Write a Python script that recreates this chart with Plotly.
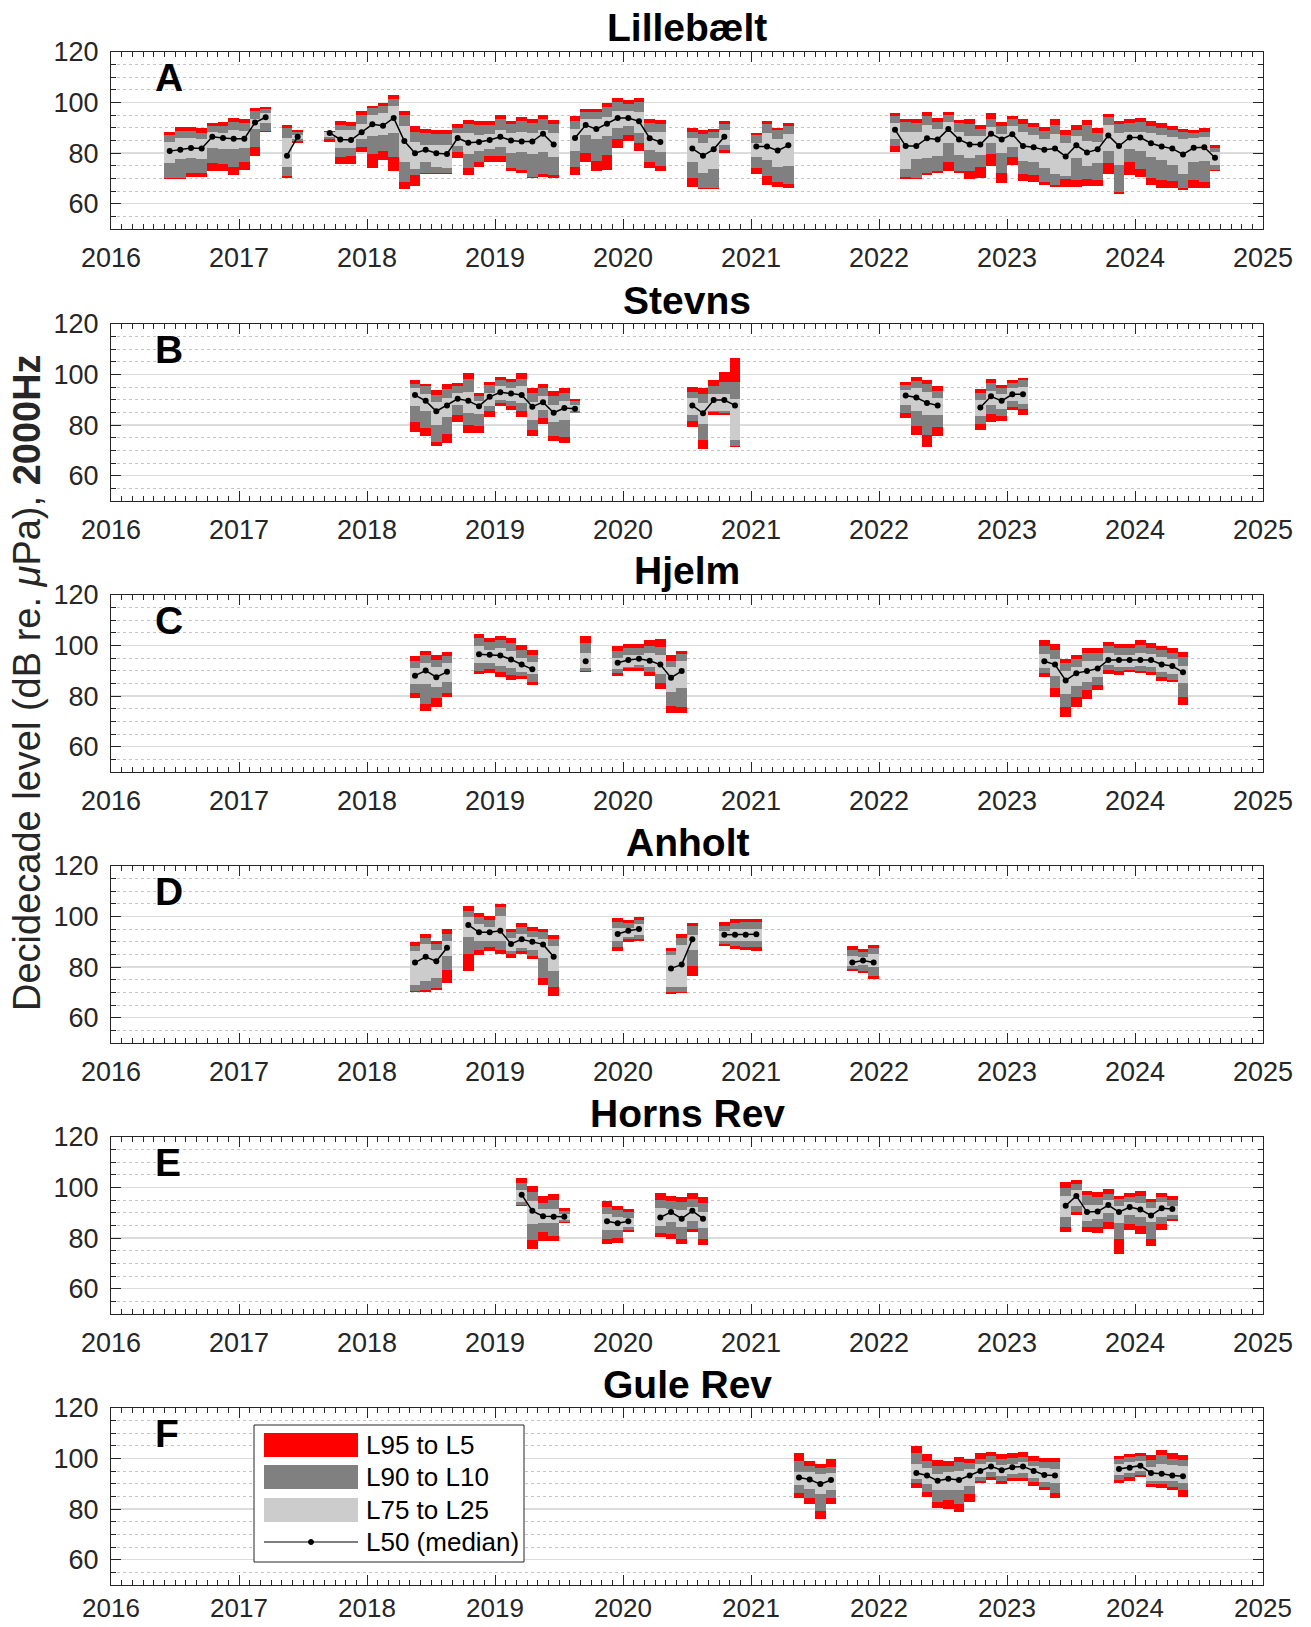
import plotly.graph_objects as go

# ---------------- Lillebælt ----------------
LIL_MONTH = ["2016-06","2016-07","2016-08","2016-09","2016-10","2016-11","2016-12","2017-01","2017-02","2017-03",
             "2017-05","2017-06",
             "2017-09","2017-10","2017-11","2017-12","2018-01","2018-02","2018-03","2018-04","2018-05","2018-06","2018-07",
             "2018-08","2018-09","2018-10","2018-11","2018-12","2019-01","2019-02","2019-03","2019-04","2019-05","2019-06",
             "2019-08","2019-09","2019-10","2019-11","2019-12","2020-01","2020-02","2020-03","2020-04",
             "2020-07","2020-08","2020-09","2020-10",
             "2021-01","2021-02","2021-03","2021-04",
             "2022-02","2022-03","2022-04","2022-05","2022-06","2022-07","2022-08","2022-09","2022-10","2022-11","2022-12",
             "2023-01","2023-02","2023-03","2023-04","2023-05","2023-06","2023-07","2023-08","2023-09","2023-10","2023-11",
             "2023-12","2024-01","2024-02","2024-03","2024-04","2024-05","2024-06","2024-07","2024-08"]
LIL_L5 = [88.3,90.3,90.3,90.0,91.9,92.4,93.9,93.7,97.8,98.3, 91.0,89.3,
          88.6,92.6,92.4,96.5,98.8,99.9,102.8,96.8,90.6,89.5,89.3,89.0,91.4,93.2,92.6,92.6,95.0,92.9,94.2,93.7,95.0,93.2,
          94.5,97.5,97.5,99.9,101.9,101.2,101.9,93.7,93.2, 90.1,89.0,89.5,92.6, 88.0,92.6,90.1,91.9,
          95.7,93.7,93.7,96.3,93.9,96.3,93.2,93.7,91.1,96.0,92.4,94.5,93.4,92.1,90.3,93.4,89.0,91.1,93.2,89.8,95.5,92.6,
          93.4,93.9,92.6,91.9,90.8,89.5,89.3,90.1,83.1]
LIL_L10 = [87.0,88.6,88.6,88.0,90.6,90.8,92.4,92.1,96.8,97.5, 90.0,88.3,
           88.4,91.1,90.8,95.0,97.8,98.8,101.4,95.0,88.5,88.0,87.5,87.5,90.1,91.6,91.1,91.1,93.4,91.4,92.6,92.1,93.4,91.6,
           92.6,96.3,96.3,98.1,100.1,99.6,100.4,91.9,91.6, 88.5,87.5,88.3,91.4, 87.2,91.6,89.0,90.8,
           94.5,92.4,92.1,94.7,92.4,95.2,91.9,91.4,89.5,93.7,90.8,93.4,91.6,90.3,88.8,91.1,87.2,89.3,91.1,88.0,94.2,91.4,
           91.9,92.4,90.8,90.1,89.3,88.3,88.0,88.5,82.1]
LIL_L25 = [84.4,86.0,86.0,85.7,88.5,88.0,89.0,88.6,93.4,95.7, 86.0,87.0,
           88.3,89.3,89.0,91.6,95.2,95.7,98.6,90.6,84.6,83.4,83.1,83.1,88.0,88.0,87.2,87.5,89.3,88.0,88.3,88.0,89.3,88.0,
           89.5,93.4,93.4,94.2,96.8,96.5,96.3,88.5,88.3, 85.9,83.9,85.9,89.0, 84.1,88.0,85.7,87.7,
           91.9,88.5,88.5,91.1,89.5,92.4,88.3,86.7,86.7,90.3,87.7,90.6,88.3,87.0,85.7,87.7,83.9,86.7,84.9,84.6,91.1,88.0,
           88.5,88.5,88.0,87.0,86.5,85.7,85.9,86.2,80.5]
LIL_L50 = [80.8,81.3,82.0,81.8,86.5,86.0,85.7,85.7,92.1,94.2, 79.0,86.5,
           88.0,85.4,85.2,88.3,91.4,90.8,93.9,84.8,80.0,81.3,80.0,79.7,86.0,84.1,84.4,85.2,86.5,85.0,84.6,84.6,87.7,83.4,
           86.0,91.1,89.5,91.6,93.9,93.9,92.6,85.9,84.4, 81.8,79.0,81.5,86.5, 82.6,82.6,81.0,83.1,
           89.3,82.8,82.8,85.9,85.4,89.5,85.4,83.4,83.4,87.7,85.4,87.5,82.8,82.3,81.3,81.8,78.7,83.1,80.3,81.5,87.0,82.8,
           86.2,86.2,83.9,82.6,81.8,79.5,82.1,82.3,78.2]
LIL_L75 = [76.0,77.7,78.0,77.7,82.2,81.8,81.8,82.2,89.5,91.9, 74.5,85.4,
           86.2,82.2,82.2,85.4,86.7,87.0,88.0,76.4,73.8,76.4,74.6,74.1,82.8,79.6,80.9,81.5,82.3,80.0,80.3,79.7,80.5,78.5,
           80.9,87.0,85.7,86.7,89.8,90.6,88.0,81.3,80.3, 76.6,72.3,73.8,83.4, 78.5,77.2,74.6,74.8,
           85.7,73.8,77.7,77.9,78.7,83.9,79.2,78.2,79.2,84.1,80.0,82.6,76.9,76.6,74.3,71.7,71.0,78.2,75.0,76.1,80.8,75.2,
           81.5,80.8,78.5,77.2,75.2,71.7,76.4,76.9,75.2]
LIL_L90 = [70.2,70.2,72.3,72.0,76.1,75.9,74.5,76.6,82.6,88.6, 71.0,84.8,
           85.4,78.5,78.7,82.6,79.5,80.8,78.5,68.4,71.2,72.3,72.3,72.3,80.3,74.1,76.6,78.7,78.7,74.3,73.3,70.7,71.7,71.2,
           74.6,80.0,76.9,79.2,85.7,87.0,83.9,76.6,74.8, 70.2,66.3,66.3,81.3, 74.3,71.0,68.6,67.9,
           82.8,70.5,70.2,72.3,73.0,76.4,72.8,72.8,74.6,79.7,72.3,78.5,71.7,71.2,68.6,67.4,69.9,69.4,69.7,69.4,76.1,64.8,
           76.6,73.8,70.2,69.4,68.9,66.1,69.4,68.6,73.5]
LIL_L95 = [69.7,69.7,70.5,70.7,73.0,73.0,71.2,73.2,78.7,88.3, 70.2,84.1,
           84.6,75.9,75.9,80.5,74.0,77.2,72.8,65.8,67.1,71.7,71.7,71.7,77.9,71.2,74.5,76.4,76.4,72.8,72.3,70.2,70.5,70.2,
           71.5,76.4,72.8,73.5,82.1,84.9,80.8,74.3,73.0, 66.6,65.8,65.8,80.0, 71.7,67.6,66.6,66.1,
           80.3,69.9,69.7,71.5,72.3,72.8,72.3,69.7,70.2,75.0,68.1,75.5,68.9,68.6,67.6,66.6,66.6,66.8,67.1,67.1,71.8,64.0,
           71.5,70.5,67.6,66.3,66.3,65.3,66.3,66.1,72.8]

# ---------------- Stevns ----------------
STE_MONTH = ["2018-05","2018-06","2018-07","2018-08","2018-09","2018-10","2018-11","2018-12","2019-01","2019-02",
             "2019-03","2019-04","2019-05","2019-06","2019-07","2019-08",
             "2020-07","2020-08","2020-09","2020-10","2020-11",
             "2022-03","2022-04","2022-05","2022-06",
             "2022-10","2022-11","2022-12","2023-01","2023-02"]
STE_L5 = [97.7,96.4,93.8,96.1,96.6,100.5,92.7,97.1,99.2,98.2,100.5,94.5,96.4,93.5,94.5,90.4,
          95.1,94.5,97.9,101.0,106.5, 97.1,99.0,97.7,95.6, 94.3,98.2,95.8,97.7,98.7]
STE_L10 = [96.4,95.3,91.9,94.3,95.3,98.2,91.4,95.8,97.7,96.9,98.4,92.7,94.5,91.7,92.7,89.6,
           93.2,92.2,95.6,97.1,96.9, 95.8,97.4,96.1,93.5, 92.7,96.6,94.5,96.6,97.7]
STE_L25 = [94.8,92.2,89.1,90.6,92.7,93.0,89.4,92.7,95.3,94.8,95.3,89.1,91.7,87.8,89.4,87.8,
           90.6,88.6,92.5,92.2,90.4, 93.8,94.5,93.0,90.6, 89.9,93.5,92.5,94.8,95.1]
STE_L50 = [91.9,89.6,85.5,87.8,90.4,89.6,87.5,91.2,93.0,92.5,91.9,87.3,89.1,84.9,86.8,86.5,
           87.8,84.7,89.9,89.9,87.8, 91.7,90.9,88.8,87.8, 87.0,91.4,89.6,92.2,92.2]
STE_L75 = [87.4,85.7,80.0,83.1,87.8,84.9,84.4,87.5,90.1,89.4,88.8,82.1,86.0,81.3,82.1,85.5,
           84.2,80.3,85.7,85.5,74.0, 88.0,85.5,83.9,83.9, 83.6,88.0,86.5,89.6,88.3]
STE_L90 = [81.3,78.7,73.5,76.4,84.2,80.0,79.7,85.5,88.6,87.5,85.5,78.2,82.9,75.8,75.3,84.9,
           81.6,74.0,85.2,84.7,71.7, 84.9,79.7,76.1,79.2, 80.3,84.4,83.6,87.3,86.5]
STE_L95 = [77.4,75.8,71.8,73.0,81.3,76.9,76.9,83.4,87.5,86.0,83.1,75.8,80.5,73.8,73.0,84.7,
           79.2,70.6,84.2,84.2,71.2, 82.9,76.1,71.4,75.8, 78.0,81.1,81.6,86.0,84.2]

# ---------------- Hjelm ----------------
HJE_MONTH = ["2018-05","2018-06","2018-07","2018-08",
             "2018-11","2018-12","2019-01","2019-02","2019-03","2019-04",
             "2019-09",
             "2019-12","2020-01","2020-02","2020-03","2020-04","2020-05","2020-06",
             "2023-04","2023-05","2023-06","2023-07","2023-08","2023-09","2023-10","2023-11","2023-12","2024-01",
             "2024-02","2024-03","2024-04","2024-05"]
HJE_L5 = [95.8,97.7,96.4,97.4, 104.4,103.1,103.9,102.9,100.3,98.2, 103.9,
          99.7,100.8,100.8,102.1,102.6,96.4,97.9,
          102.3,100.5,94.8,96.4,99.0,99.0,101.6,100.8,100.5,102.1,101.0,99.7,99.0,97.4]
HJE_L10 = [94.0,96.4,94.3,95.8, 102.9,101.3,102.3,101.0,98.4,96.4, 101.0,
           97.9,99.0,99.0,100.0,99.5,94.0,96.6,
           99.7,98.4,93.2,94.8,96.9,96.9,100.0,99.2,99.0,100.3,99.2,98.4,97.1,95.3]
HJE_L25 = [91.2,93.2,91.4,93.0, 99.7,98.4,99.0,97.9,95.1,93.5, 97.1,
           95.1,96.4,96.4,96.9,96.1,91.7,93.8,
           96.6,94.8,89.9,91.7,93.8,94.0,96.9,96.4,96.4,96.9,96.6,95.6,94.5,91.9]
HJE_L50 = [88.1,90.1,87.5,89.6, 96.6,96.4,96.1,94.5,92.5,90.6, 93.8,
           93.2,94.3,94.8,94.0,92.5,87.3,89.9,
           93.8,92.5,86.2,89.1,89.9,90.9,94.3,94.3,94.3,94.3,94.3,92.5,91.9,89.4]
HJE_L75 = [84.9,84.9,83.6,85.5, 93.0,93.2,91.9,91.2,89.6,88.6, 91.2,
           90.9,91.7,92.5,91.4,88.8,81.8,83.4,
           91.2,87.8,81.0,83.9,85.5,87.5,92.2,91.7,91.7,91.9,91.4,89.4,88.8,85.2]
HJE_L90 = [81.3,76.9,79.2,81.3, 89.9,90.6,89.4,88.3,88.1,85.7, 90.1,
           89.1,91.2,91.2,89.6,85.2,76.1,75.8,
           89.1,83.1,75.8,79.5,82.6,84.4,90.4,89.9,90.4,90.1,89.6,87.5,86.5,79.5]
HJE_L95 = [79.2,74.3,75.8,79.7, 88.6,89.1,87.5,86.2,86.8,84.4, 89.4,
           87.8,90.1,90.1,88.1,82.9,73.2,73.2,
           87.5,79.7,71.9,75.8,79.0,82.6,88.8,88.3,89.4,89.1,88.3,86.0,85.5,76.4]

# ---------------- Anholt ----------------
ANH_MONTH = ["2018-05","2018-06","2018-07","2018-08",
             "2018-10","2018-11","2018-12","2019-01","2019-02","2019-03","2019-04","2019-05","2019-06",
             "2019-12","2020-01","2020-02",
             "2020-05","2020-06","2020-07",
             "2020-10","2020-11","2020-12","2021-01",
             "2021-10","2021-11","2021-12"]
ANH_L5 = [90.0,93.1,90.3,94.9, 104.1,101.3,100.3,105.1,95.1,97.4,95.9,95.1,92.8,
          99.5,98.7,100.0, 87.7,93.3,97.4, 97.9,99.0,99.2,99.2, 88.2,87.2,88.7]
ANH_L10 = [88.5,91.5,89.0,93.3, 102.3,99.7,98.7,103.6,93.8,95.9,94.1,93.8,91.0,
           97.9,97.4,98.7, 86.4,91.5,96.2, 96.4,97.4,97.7,97.7, 86.9,85.9,87.4]
ANH_L25 = [86.4,89.2,86.7,90.5, 99.7,96.9,95.9,100.3,91.5,93.1,91.8,91.3,88.2,
           95.6,95.4,96.9, 84.9,88.7,92.6, 94.4,94.9,95.1,95.1, 84.6,84.1,85.1]
ANH_L50 = [81.8,84.1,82.3,87.7, 96.7,93.8,93.8,94.4,89.2,91.0,90.0,89.0,84.1,
           93.1,94.4,95.1, 79.5,81.0,91.0, 92.8,92.8,92.8,93.0, 81.8,82.6,81.8]
ANH_L75 = [73.1,74.6,75.9,84.6, 92.1,90.5,90.5,90.5,86.4,87.7,86.9,83.8,78.5,
           90.3,92.1,92.8, 72.1,72.3,86.9, 90.5,90.5,90.3,90.3, 80.3,80.8,80.0]
ANH_L90 = [70.5,70.8,71.8,79.0, 85.1,86.7,87.9,86.7,85.1,86.2,84.6,75.9,72.1,
           87.9,91.0,91.3, 70.0,70.3,80.3, 89.2,88.5,87.9,87.9, 79.2,78.5,76.4]
ANH_L95 = [70.0,70.3,70.8,73.8, 78.5,84.9,86.2,85.1,83.8,85.1,83.3,73.1,68.5,
           86.2,90.0,90.3, 69.5,69.7,76.4, 88.5,87.2,86.9,86.2, 78.5,77.7,75.4]

# ---------------- Horns Rev ----------------
HOR_MONTH = ["2019-03","2019-04","2019-05","2019-06","2019-07",
             "2019-11","2019-12","2020-01",
             "2020-04","2020-05","2020-06","2020-07","2020-08",
             "2023-06","2023-07","2023-08","2023-09","2023-10","2023-11","2023-12","2024-01","2024-02","2024-03","2024-04"]
HOR_L5 = [103.6,100.5,96.7,97.4,91.8, 94.6,92.8,91.5, 97.7,96.7,96.2,97.7,96.2,
          102.3,102.8,98.7,98.2,99.5,96.7,97.7,98.5,95.6,97.7,96.7]
HOR_L10 = [101.8,98.2,93.8,95.1,90.8, 92.3,91.0,90.3, 94.9,94.6,94.1,95.4,93.8,
           100.0,101.3,96.9,96.2,97.4,95.4,96.4,96.7,94.4,96.2,95.1]
HOR_L25 = [99.2,94.6,91.5,91.5,89.5, 89.5,88.5,87.9, 91.8,91.5,91.0,92.3,90.5,
           96.7,99.0,93.3,93.1,95.1,92.8,94.1,93.8,92.1,94.1,92.8]
HOR_L50 = [97.2,90.8,88.7,88.5,88.5, 86.7,85.9,86.7, 88.2,90.3,87.7,90.8,87.7,
           92.8,96.7,90.3,90.5,93.1,90.3,92.3,91.3,89.0,91.8,91.5]
HOR_L75 = [94.1,85.6,85.9,85.9,87.2, 83.3,83.3,84.6, 84.9,86.4,84.4,86.9,84.1,
           88.2,92.8,86.7,87.7,90.0,85.9,89.0,88.5,86.2,88.5,89.0]
HOR_L90 = [93.3,79.2,82.3,81.0,86.4, 79.5,80.0,83.1, 82.1,81.5,79.7,83.8,79.7,
           84.4,90.5,84.4,84.4,86.4,79.7,85.4,84.9,79.7,85.6,87.4]
HOR_L95 = [92.8,75.9,78.7,78.7,85.9, 77.7,77.9,82.3, 80.5,79.5,77.7,82.3,77.4,
           82.6,89.2,82.6,82.1,83.6,73.6,83.3,81.5,76.9,83.1,86.7]

# ---------------- Gule Rev ----------------
GUL_MONTH = ["2021-05","2021-06","2021-07","2021-08",
             "2022-04","2022-05","2022-06","2022-07","2022-08","2022-09","2022-10","2022-11","2022-12",
             "2023-01","2023-02","2023-03","2023-04","2023-05",
             "2023-11","2023-12","2024-01","2024-02","2024-03","2024-04","2024-05"]
GUL_L5 = [102.1,99.0,97.7,100.0, 104.9,101.8,99.5,99.0,100.8,99.7,102.1,102.6,101.8,102.1,102.6,101.0,100.3,100.3,
          101.0,101.8,102.3,101.5,103.4,102.1,101.5]
GUL_L10 = [99.0,96.9,96.1,96.6, 102.3,99.2,96.9,96.9,98.5,98.2,100.0,101.0,99.7,100.3,100.8,99.2,98.7,98.7,
           99.7,100.5,101.0,99.5,101.3,100.0,99.5]
GUL_L25 = [94.6,94.6,93.8,94.3, 97.9,96.4,93.8,94.6,95.1,95.9,97.7,98.5,97.4,97.7,98.7,97.2,96.1,95.9,
           97.7,98.5,99.0,96.6,97.9,97.4,96.9]
GUL_L50 = [92.5,91.7,89.9,91.5, 94.3,93.3,91.2,92.0,91.5,93.3,95.1,96.9,95.4,96.6,96.9,95.1,93.5,93.3,
           95.9,96.4,97.2,94.3,94.0,93.3,93.0]
GUL_L75 = [89.7,88.1,85.8,87.4, 92.0,89.9,87.6,87.6,87.4,89.2,92.8,94.6,93.3,93.8,94.1,92.3,90.7,90.2,
           93.5,94.3,95.1,91.2,91.2,91.0,90.2]
GUL_L90 = [86.3,84.5,79.4,84.3, 90.2,86.8,83.0,83.5,82.2,85.8,91.2,92.8,91.2,92.5,92.5,90.7,88.6,86.3,
           91.7,92.8,93.5,89.9,89.9,88.6,87.4]
GUL_L95 = [84.5,81.9,76.0,82.2, 88.4,85.0,80.4,80.1,78.8,83.0,90.2,91.5,89.9,91.2,91.2,89.2,87.4,84.5,
           90.2,91.2,92.8,88.6,88.4,87.4,84.8]

STATION_NAMES = ["Lillebælt", "Stevns", "Hjelm", "Anholt", "Horns Rev", "Gule Rev"]
PANEL_LETTERS = ["A", "B", "C", "D", "E", "F"]
YEAR_TICKS = list(range(2016, 2026))
LEGEND_LABELS = ["L95 to L5", "L90 to L10", "L75 to L25", "L50 (median)"]

STATIONS = [
    (LIL_MONTH, LIL_L5, LIL_L10, LIL_L25, LIL_L50, LIL_L75, LIL_L90, LIL_L95),
    (STE_MONTH, STE_L5, STE_L10, STE_L25, STE_L50, STE_L75, STE_L90, STE_L95),
    (HJE_MONTH, HJE_L5, HJE_L10, HJE_L25, HJE_L50, HJE_L75, HJE_L90, HJE_L95),
    (ANH_MONTH, ANH_L5, ANH_L10, ANH_L25, ANH_L50, ANH_L75, ANH_L90, ANH_L95),
    (HOR_MONTH, HOR_L5, HOR_L10, HOR_L25, HOR_L50, HOR_L75, HOR_L90, HOR_L95),
    (GUL_MONTH, GUL_L5, GUL_L10, GUL_L25, GUL_L50, GUL_L75, GUL_L90, GUL_L95),
]

RED = "#FF0000"
DARK = "#808080"
LIGHT = "#CCCCCC"
AXC = "#262626"
FONT = "Liberation Sans, Arial, Helvetica, sans-serif"


def month_index(s):
    y, m = s.split("-")
    return int(y) * 12 + int(m) - 1


def month_center(s):
    y, m = s.split("-")
    return int(y) + (int(m) - 0.5) / 12.0


fig = go.Figure()

# page geometry (the page body margin is removed by a post script, so figure coords = page coords)
FIG_W, FIG_H = 1311, 1627
PX_L, PX_R = 111, 1263
TOP_PX, BOT_PX = 52, 1585
PLOT_W = PX_R - PX_L
PLOT_H = BOT_PX - TOP_PX
PANEL_TOPS = [52, 324, 595, 866, 1137, 1408]
PANEL_H = 177

for k, (months, l5, l10, l25, l50, l75, l90, l95) in enumerate(STATIONS):
    ax = "" if k == 0 else str(k + 1)
    xs = [month_center(m) for m in months]
    for hi, lo, col in ((l5, l95, RED), (l10, l90, DARK), (l25, l75, LIGHT)):
        fig.add_trace(go.Bar(
            x=xs, y=[a - b for a, b in zip(hi, lo)], base=lo, width=1 / 12,
            marker=dict(color=col, line=dict(width=0)),
            xaxis="x" + ax, yaxis="y" + ax, showlegend=False, hoverinfo="skip"))
    # median line with gaps between non-consecutive months
    mx, my = [], []
    prev = None
    for m, x, v in zip(months, xs, l50):
        idx = month_index(m)
        if prev is not None and idx - prev > 1:
            mx.append(None)
            my.append(None)
        mx.append(x)
        my.append(v)
        prev = idx
    fig.add_trace(go.Scatter(
        x=mx, y=my, mode="lines+markers", connectgaps=False,
        line=dict(color="black", width=1.5), marker=dict(color="black", size=6),
        xaxis="x" + ax, yaxis="y" + ax, showlegend=False, hoverinfo="skip"))

layout = dict(
    width=FIG_W, height=FIG_H,
    margin=dict(l=PX_L, r=FIG_W - PX_R, t=TOP_PX, b=FIG_H - BOT_PX, pad=0, autoexpand=False),
    paper_bgcolor="white", plot_bgcolor="white",
    barmode="overlay", bargap=0,
    font=dict(family=FONT, color=AXC, size=27),
    showlegend=False,
)

annotations = []
for k in range(6):
    ax = "" if k == 0 else str(k + 1)
    top = PANEL_TOPS[k]
    d1 = 1 - (top - TOP_PX) / PLOT_H
    d0 = 1 - (top + PANEL_H - TOP_PX) / PLOT_H
    last = (k == 5)
    layout["xaxis" + ax] = dict(
        domain=[0, 1], range=[2016, 2025], anchor="y" + ax, automargin=False,
        tickmode="array", tickvals=YEAR_TICKS, ticktext=[str(v) for v in YEAR_TICKS],
        ticks="inside", ticklen=10, tickwidth=1, tickcolor=AXC,
        showline=True, linecolor=AXC, linewidth=1, mirror="allticks",
        showgrid=False, zeroline=False, ticklabelstandoff=0 if last else 5,
        tickfont=dict(size=26 if last else 27, color=AXC, family=FONT),
        minor=dict(dtick=1 / 12, tick0=2016, ticks="inside", ticklen=5, tickcolor=AXC, showgrid=False),
    )
    layout["yaxis" + ax] = dict(
        domain=[d0, d1], range=[50, 120], anchor="x" + ax, automargin=False,
        tickmode="linear", tick0=60, dtick=20,
        ticks="inside", ticklen=10, tickwidth=1, tickcolor=AXC,
        showline=True, linecolor=AXC, linewidth=1, mirror="allticks",
        showgrid=True, gridcolor="#DCDCDC", gridwidth=1.5, zeroline=False,
        ticklabelstandoff=6,
        tickfont=dict(size=27, color=AXC, family=FONT),
        minor=dict(dtick=5, tick0=50, ticks="inside", ticklen=5, tickcolor=AXC,
                   showgrid=True, gridcolor="#C4C4C4", griddash="dot", gridwidth=1),
    )
    annotations.append(dict(
        text="<b>%s</b>" % STATION_NAMES[k], xref="x%s domain" % ax, yref="y%s domain" % ax,
        x=0.5, y=1 + 24 / PANEL_H, xanchor="center", yanchor="middle", showarrow=False,
        font=dict(size=39, color="black", family=FONT)))
    annotations.append(dict(
        text="<b>%s</b>" % PANEL_LETTERS[k], xref="x%s domain" % ax, yref="y%s domain" % ax,
        x=(153 - PX_L) / PLOT_W, y=0.854, xanchor="left", yanchor="middle", showarrow=False,
        font=dict(size=39, color="black", family=FONT)))

annotations.append(dict(
    text="Decidecade level (dB re. <i>μ</i>Pa), <b>2000Hz</b>",
    xref="paper", yref="paper", x=(27 - PX_L) / PLOT_W, y=1 - (683 - TOP_PX) / PLOT_H,
    xanchor="center", yanchor="middle", textangle=-90, showarrow=False,
    font=dict(size=38, color=AXC, family=FONT)))

# legend drawn inside panel F (page pixel positions converted to panel-F domain fractions)
F_BOT = PANEL_TOPS[5] + PANEL_H
shapes = []
LX0, LX1 = (254 - PX_L) / PLOT_W, (524 - PX_L) / PLOT_W
LY0, LY1 = (F_BOT - 1562) / PANEL_H, (F_BOT - 1425) / PANEL_H
shapes.append(dict(type="rect", xref="x6 domain", yref="y6 domain", x0=LX0, x1=LX1, y0=LY0, y1=LY1,
                   line=dict(color=AXC, width=1), fillcolor="white", layer="above"))
row_px = [1445, 1477, 1510, 1542]
sw_x0, sw_x1 = (264 - PX_L) / PLOT_W, (358 - PX_L) / PLOT_W
half = 12 / PANEL_H
for i, col in enumerate([RED, DARK, LIGHT]):
    yc = (F_BOT - row_px[i]) / PANEL_H
    shapes.append(dict(type="rect", xref="x6 domain", yref="y6 domain", x0=sw_x0, x1=sw_x1,
                       y0=yc - half, y1=yc + half, line=dict(width=0), fillcolor=col, layer="above"))
yc = (F_BOT - row_px[3]) / PANEL_H
shapes.append(dict(type="line", xref="x6 domain", yref="y6 domain", x0=sw_x0, x1=sw_x1, y0=yc, y1=yc,
                   line=dict(color="black", width=1.2), layer="above"))
cx = (sw_x0 + sw_x1) / 2
shapes.append(dict(type="circle", xref="x6 domain", yref="y6 domain",
                   x0=cx - 2.5 / PLOT_W, x1=cx + 2.5 / PLOT_W, y0=yc - 2.5 / PANEL_H, y1=yc + 2.5 / PANEL_H,
                   line=dict(color="black", width=1), fillcolor="black", layer="above"))
for i, lab in enumerate(LEGEND_LABELS):
    annotations.append(dict(
        text=lab, xref="x6 domain", yref="y6 domain", x=(364 - PX_L) / PLOT_W,
        y=(F_BOT - row_px[i]) / PANEL_H, xanchor="left", yanchor="middle", showarrow=False,
        font=dict(size=26, color="black", family=FONT)))

layout["annotations"] = annotations
layout["shapes"] = shapes
fig.update_layout(**layout)

fig.write_html("out.html",
               config={"displayModeBar": False, "staticPlot": True},
               post_script="document.body.style.margin='0';document.body.style.overflow='hidden';")
